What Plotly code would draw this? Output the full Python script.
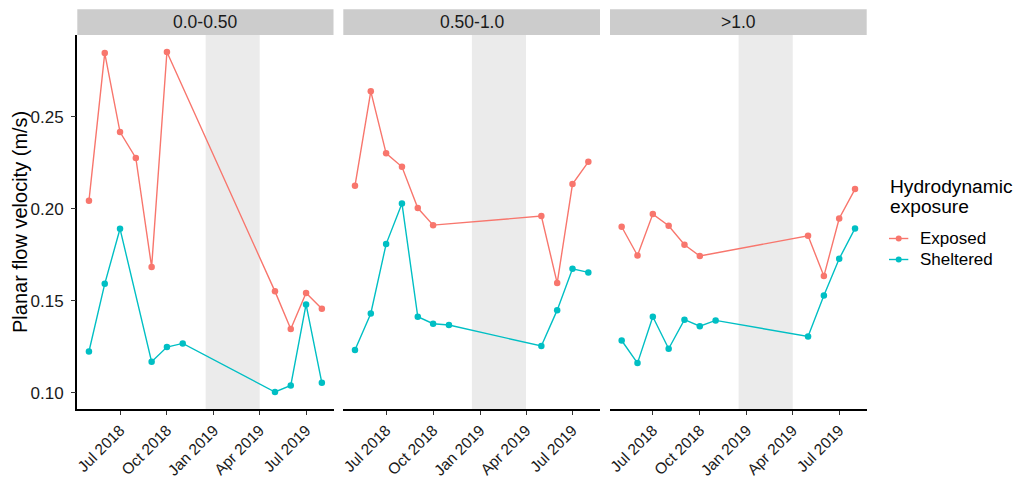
import pandas as pd
import plotly.graph_objects as go

# Facet labels (hydrodynamic exposure classes)
panels = ["0.0-0.50", "0.50-1.0", ">1.0"]

# Sampling dates
exposed_dates = ["2018-05-01", "2018-06-01", "2018-07-01", "2018-08-01", "2018-09-01",
                 "2018-10-01", "2019-05-01", "2019-06-01", "2019-07-01", "2019-08-01"]
sheltered_dates_a = ["2018-05-01", "2018-06-01", "2018-07-01", "2018-09-01", "2018-10-01",
                     "2018-11-01", "2019-05-01", "2019-06-01", "2019-07-01", "2019-08-01"]
sheltered_dates_b = ["2018-05-01", "2018-06-01", "2018-07-01", "2018-08-01", "2018-09-01",
                     "2018-10-01", "2018-11-01", "2019-05-01", "2019-06-01", "2019-07-01",
                     "2019-08-01"]

# Planar flow velocity (m/s)
exposed_p1 = [0.2043, 0.2846, 0.2417, 0.2276, 0.1683, 0.2852, 0.1551, 0.1346, 0.1542, 0.1457]
sheltered_p1 = [0.1224, 0.1592, 0.1891, 0.1168, 0.1248, 0.1268, 0.1004, 0.1040, 0.1480, 0.1054]
exposed_p2 = [0.2125, 0.2638, 0.2301, 0.2228, 0.2004, 0.1911, 0.1960, 0.1596, 0.2134, 0.2255]
sheltered_p2 = [0.1232, 0.1431, 0.1808, 0.2029, 0.1413, 0.1375, 0.1368, 0.1254, 0.1449,
                0.1674, 0.1654]
exposed_p3 = [0.1902, 0.1746, 0.1971, 0.1908, 0.1804, 0.1743, 0.1853, 0.1634, 0.1947, 0.2107]
sheltered_p3 = [0.1284, 0.1161, 0.1413, 0.1239, 0.1397, 0.1362, 0.1393, 0.1306, 0.1529,
                0.1728, 0.1893]

# Winter period highlighted in every panel
shade_start, shade_end = "2018-12-16", "2019-04-01"

# Axis ticks
x_tickvals = ["2018-07-01", "2018-10-01", "2019-01-01", "2019-04-01", "2019-07-01"]
x_ticktext = ["Jul 2018", "Oct 2018", "Jan 2019", "Apr 2019", "Jul 2019"]
y_tickvals = [0.10, 0.15, 0.20, 0.25]

# Legend entries
legend_title = ["Hydrodynamic", "exposure"]
legend_labels = ["Exposed", "Sheltered"]

EXPOSED_COLOR = "#F8766D"
SHELTERED_COLOR = "#00BFC4"
FONT = "Liberation Sans, Arial, sans-serif"
TEXT_COLOR = "#1A1A1A"

series = [
    (exposed_dates, exposed_p1, sheltered_dates_a, sheltered_p1),
    (exposed_dates, exposed_p2, sheltered_dates_b, sheltered_p2),
    (exposed_dates, exposed_p3, sheltered_dates_b, sheltered_p3),
]

# ggplot-like 5% expansion of the data ranges
all_dates = pd.to_datetime(exposed_dates + sheltered_dates_a + sheltered_dates_b)
d0, d1 = all_dates.min(), all_dates.max()
dpad = (d1 - d0) * 0.05
x_range = [d0 - dpad, d1 + dpad]
all_vals = exposed_p1 + sheltered_p1 + exposed_p2 + sheltered_p2 + exposed_p3 + sheltered_p3
v0, v1 = min(all_vals), max(all_vals)
vpad = (v1 - v0) * 0.05
y_range = [v0 - vpad, v1 + vpad]

W, H = 1019, 479


def px(x):
    return x / W


def py(y):
    return 1 - y / H


x_domains = [(px(77.3), px(333.5)), (px(343.3), px(600)), (px(610), px(866.7))]
y_domain = (py(409), py(35))
strip_top = py(9.3)

fig = go.Figure()

for i, (ed, ev, sd, sv) in enumerate(series):
    xa = "x" if i == 0 else f"x{i + 1}"
    fig.add_trace(go.Scatter(
        x=ed, y=ev, xaxis=xa, yaxis="y", mode="lines+markers", name="Exposed",
        showlegend=False,
        line=dict(color=EXPOSED_COLOR, width=1.4),
        marker=dict(color=EXPOSED_COLOR, size=6.5),
    ))
    fig.add_trace(go.Scatter(
        x=sd, y=sv, xaxis=xa, yaxis="y", mode="lines+markers", name="Sheltered",
        showlegend=False,
        line=dict(color=SHELTERED_COLOR, width=1.4),
        marker=dict(color=SHELTERED_COLOR, size=6.5),
    ))

    # shaded winter band
    fig.add_shape(type="rect", xref=xa, yref="y domain",
                  x0=shade_start, x1=shade_end, y0=0, y1=1,
                  fillcolor="#EBEBEB", line=dict(width=0), layer="below")

    # facet strip
    fig.add_shape(type="rect", xref="paper", yref="paper",
                  x0=x_domains[i][0], x1=x_domains[i][1],
                  y0=y_domain[1], y1=strip_top,
                  fillcolor="#CCCCCC", line=dict(width=0), layer="below")
    fig.add_annotation(x=(x_domains[i][0] + x_domains[i][1]) / 2,
                       y=(y_domain[1] + strip_top) / 2, xref="paper", yref="paper",
                       xanchor="center", yanchor="middle",
                       text=panels[i], showarrow=False,
                       font=dict(family=FONT, size=17.5, color=TEXT_COLOR))

# y-axis title
fig.add_annotation(x=px(20), y=(y_domain[0] + y_domain[1]) / 2, xref="paper", yref="paper",
                   xanchor="center", yanchor="middle", textangle=-90,
                   text="Planar flow velocity (m/s)", showarrow=False,
                   font=dict(family=FONT, size=20, color="black"))

# legend: title lines, keys and labels
for text, yc in zip(legend_title, [186.5, 206.0]):
    fig.add_annotation(x=px(887.5), y=py(yc), xref="paper", yref="paper",
                       xanchor="left", yanchor="middle", text=text, showarrow=False,
                       font=dict(family=FONT, size=19.2, color="black"))
for label, color, yc in zip(legend_labels, [EXPOSED_COLOR, SHELTERED_COLOR], [238.5, 259.5]):
    fig.add_shape(type="line", xref="paper", yref="paper",
                  x0=px(889), x1=px(908.3), y0=py(yc), y1=py(yc),
                  line=dict(color=color, width=1.4))
    fig.add_shape(type="circle", xref="paper", yref="paper",
                  x0=px(898.7 - 3), x1=px(898.7 + 3), y0=py(yc + 3), y1=py(yc - 3),
                  fillcolor=color, line=dict(width=0))
    fig.add_annotation(x=px(917.5), y=py(yc), xref="paper", yref="paper",
                       xanchor="left", yanchor="middle", text=label, showarrow=False,
                       font=dict(family=FONT, size=17, color="black"))

axis_common = dict(
    showgrid=False, zeroline=False, showline=True, linecolor="black", linewidth=1.5,
    ticks="outside", ticklen=4.5, tickwidth=1.3, tickcolor="#333333",
    tickfont=dict(family=FONT, size=17, color=TEXT_COLOR),
    automargin=False,
)

layout_axes = {}
for i in range(3):
    key = "xaxis" if i == 0 else f"xaxis{i + 1}"
    layout_axes[key] = dict(
        axis_common, domain=list(x_domains[i]), anchor="y", type="date",
        range=x_range, tickvals=x_tickvals, ticktext=x_ticktext, tickangle=-45,
        tickfont=dict(family=FONT, size=15.5, color=TEXT_COLOR),
        ticklabelstandoff=0,
    )

fig.update_layout(
    **layout_axes,
    yaxis=dict(
        axis_common, domain=list(y_domain), anchor="x", range=y_range,
        tickvals=y_tickvals, tickformat=".2f", ticklabelstandoff=4,
    ),
    width=W, height=H,
    margin=dict(l=0, r=0, t=0, b=0, autoexpand=False),
    paper_bgcolor="white", plot_bgcolor="white",
    font=dict(family=FONT, color="black"),
    showlegend=False,
)

fig.write_html("out.html")
